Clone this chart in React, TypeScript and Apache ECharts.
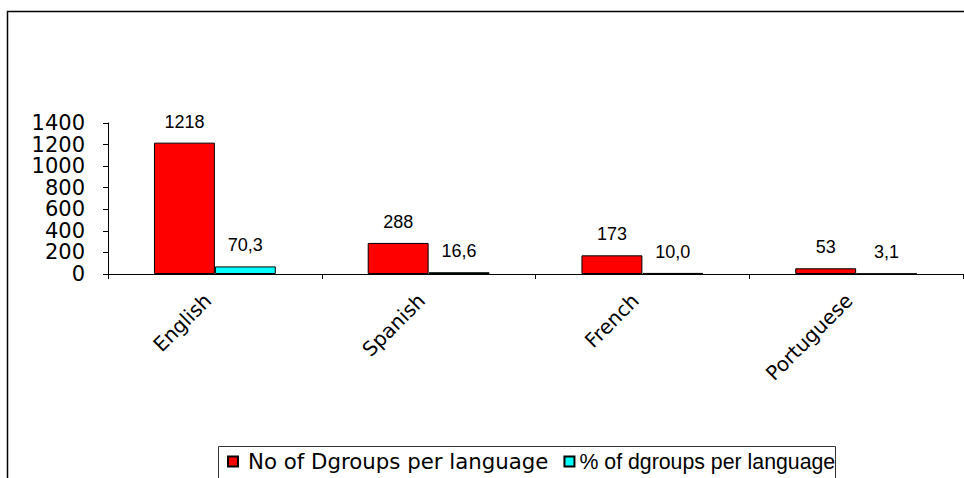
import React, { useEffect, useRef } from "react";
import * as echarts from "echarts";

const categories = ["English", "Spanish", "French", "Portuguese"];
const countValues = [1218, 288, 173, 53];
const percentValues = [70.3, 16.6, 10.0, 3.1];
const seriesNames = ["No of Dgroups per language", "% of dgroups per language"];
const yMin = 0;
const yMax = 1400;
const yInterval = 200;

export default function App() {
  const ref = useRef<HTMLDivElement>(null);
  useEffect(() => {
    document.body.style.margin = "0";
    const chart = echarts.init(ref.current!, null, { renderer: "svg" });
    chart.setOption({
      animation: false,
      backgroundColor: "#ffffff",
      grid: { left: 108, right: 1, top: 123, bottom: 204, containLabel: false },
      xAxis: {
        type: "category",
        data: categories,
        axisLine: { lineStyle: { color: "#000", width: 1 } },
        axisTick: { show: true, length: 5, lineStyle: { color: "#000" } },
        axisLabel: {
          rotate: 45,
          margin: 16,
          padding: [0, 10, 0, 0],
          fontFamily: "DejaVu Sans",
          fontSize: 20,
          color: "#000",
          interval: 0,
        },
        splitLine: { show: false },
      },
      yAxis: {
        type: "value",
        min: yMin,
        max: yMax,
        interval: yInterval,
        axisLine: { show: true, lineStyle: { color: "#000", width: 1 } },
        axisTick: { show: true, length: 5, lineStyle: { color: "#000" } },
        axisLabel: {
          margin: 23,
          fontFamily: "DejaVu Sans",
          fontSize: 21,
          color: "#000",
          showMinLabel: true,
          showMaxLabel: true,
          hideOverlap: false,
          formatter: (v: number) => String(v),
        },
        splitLine: { show: false },
      },
      legend: {
        left: 227,
        top: 451,
        padding: 0,
        itemWidth: 10,
        itemHeight: 10,
        itemGap: 15,
        icon: "rect",
        data: [
          {
            name: seriesNames[0],
            textStyle: { fontFamily: "DejaVu Sans", fontSize: 21.3, color: "#000", padding: [0, 0, 0, 5] },
          },
          {
            name: seriesNames[1],
            textStyle: { fontFamily: "Liberation Sans", fontSize: 21.3, color: "#000", padding: [0, 0, 0, 0] },
          },
        ],
      },
      graphic: [
        {
          type: "rect",
          shape: { x: 7.5, y: 11.5, width: 2000, height: 2000 },
          style: { fill: "none", stroke: "#000", lineWidth: 1.5 },
          silent: true,
          z: -10,
        },
        {
          type: "rect",
          shape: { x: 218.5, y: 446.5, width: 617, height: 100 },
          style: { fill: "none", stroke: "#333", lineWidth: 1 },
          silent: true,
          z: -10,
        },
      ],
      series: [
        {
          name: seriesNames[0],
          type: "bar",
          data: countValues,
          barGap: "0%",
          barCategoryGap: "43%",
          itemStyle: { color: "#ff0000", borderColor: "#000", borderWidth: 1 },
          label: {
            show: true,
            position: "top",
            distance: 12,
            fontFamily: "Liberation Sans",
            fontSize: 18,
            color: "#000",
          },
        },
        {
          name: seriesNames[1],
          type: "bar",
          data: percentValues,
          itemStyle: { color: "#00ffff", borderColor: "#000", borderWidth: 1 },
          label: {
            show: true,
            position: "top",
            distance: 12,
            fontFamily: "Liberation Sans",
            fontSize: 18,
            color: "#000",
            formatter: (p: any) => Number(p.value).toFixed(1).replace(".", ","),
          },
        },
      ],
    });
    return () => chart.dispose();
  }, []);
  return <div ref={ref} style={{ width: 964, height: 478 }} />;
}
